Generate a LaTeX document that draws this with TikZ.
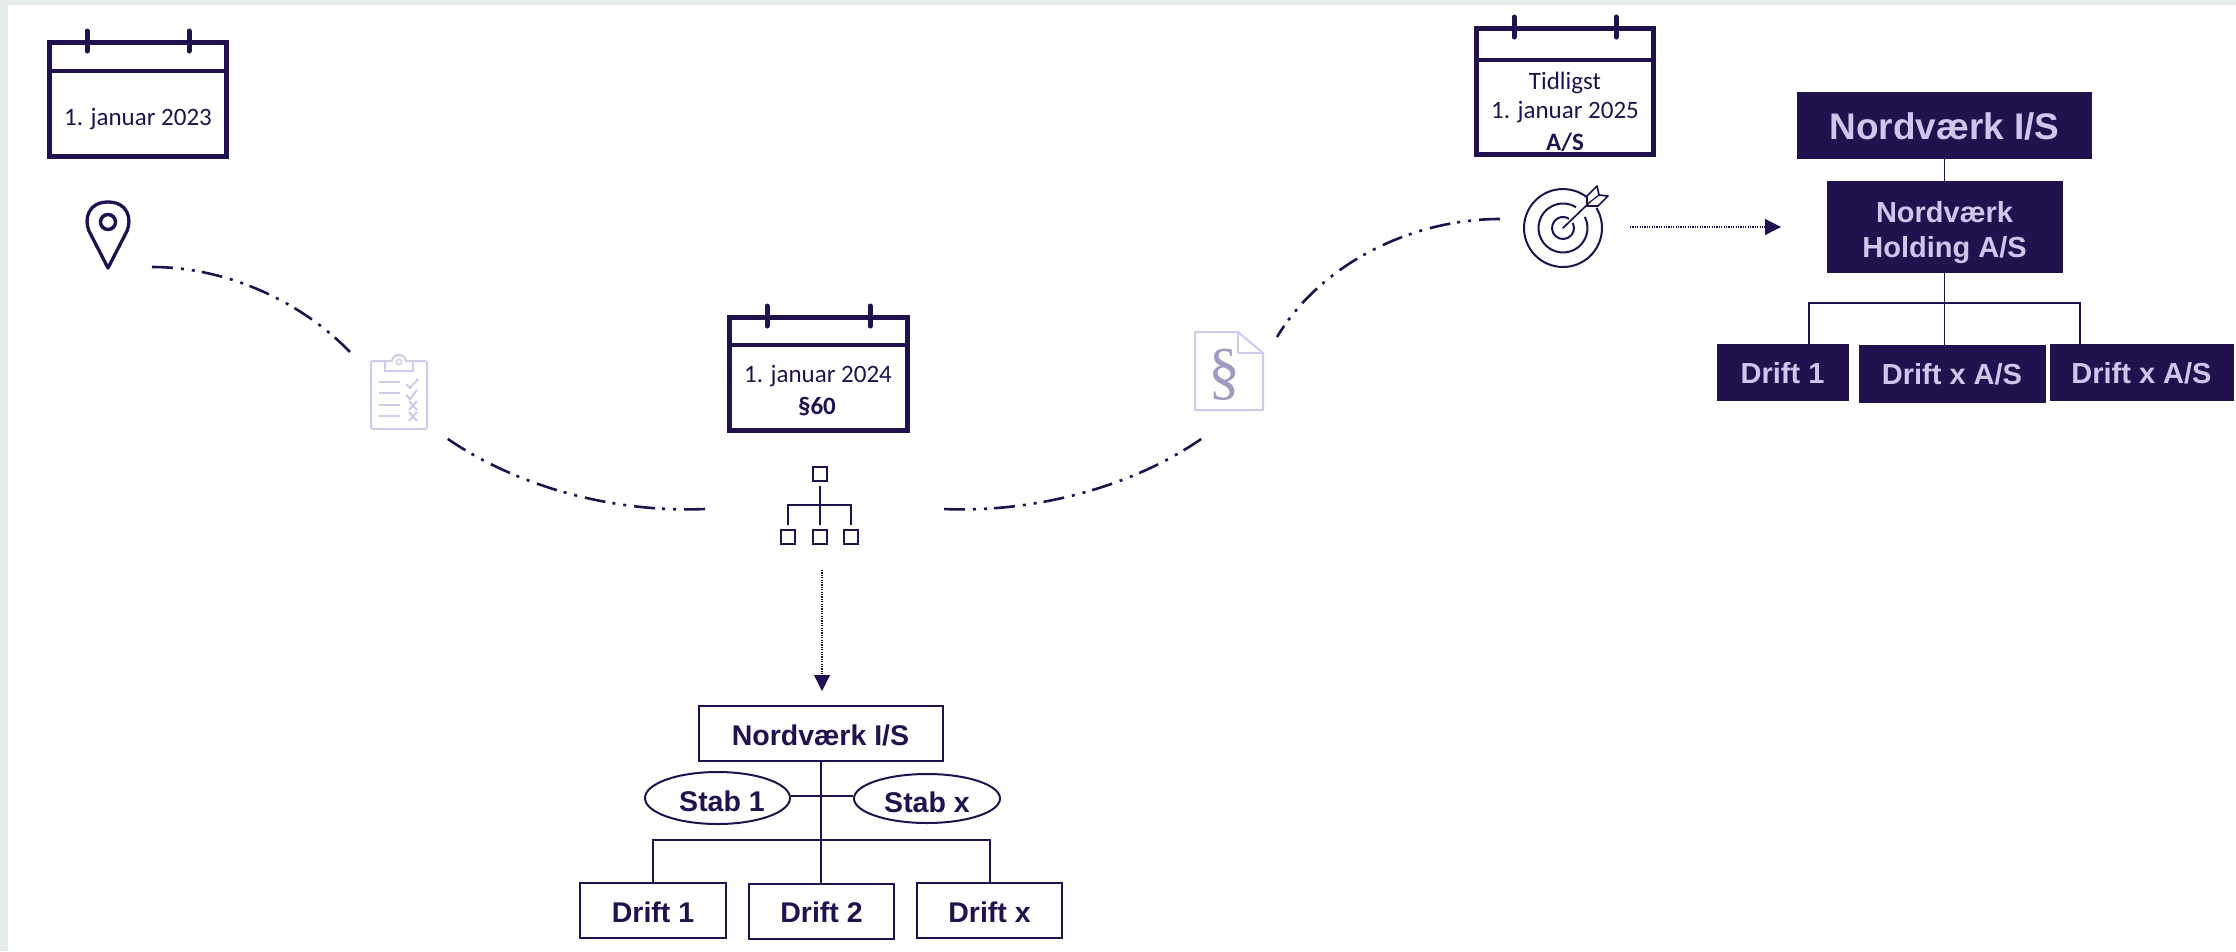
\documentclass[tikz,border=0pt]{standalone}
\usepackage{fontspec}
\setmainfont{Liberation Sans}
\newfontfamily\calfont{Carlito}
\newfontfamily\parfont{Liberation Serif}
\usetikzlibrary{arrows.meta,shapes.geometric}
\definecolor{navy}{HTML}{21124F}
\definecolor{lav}{HTML}{D2CAEB}
\definecolor{lavtext}{HTML}{CFC6EC}
\definecolor{parcol}{HTML}{A19BC1}
\definecolor{edge}{HTML}{E6ECE8}
\tikzset{
  x=1pt,y=-1pt,
  calline/.style={draw=navy,line width=4.8pt},
  calhead/.style={draw=navy,line width=3.8pt},
  caltab/.style={draw=navy,line width=5pt,line cap=round},
  caltext/.style={text=navy,inner sep=0pt,anchor=base,font=\calfont\fontsize{25}{30}\selectfont},
  calbold/.style={caltext,font=\calfont\bfseries\fontsize{25}{30}\selectfont},
  wbox/.style={draw=navy,line width=2pt,fill=white,text=navy,inner sep=0pt,outer sep=0pt,text depth=0pt,font=\bfseries\fontsize{28.5}{34}\selectfont},
  dbox/.style={draw=navy,fill=navy,line width=0.5pt,text=lavtext,inner sep=0pt,outer sep=0pt,text depth=0pt,font=\bfseries\fontsize{29}{35}\selectfont,align=center},
  wire/.style={draw=navy,line width=2pt},
  dwire/.style={draw=navy,line width=1.9pt},
  roadline/.style={draw=navy,line width=2.6pt,dash pattern=on 21pt off 8pt on 3pt off 8pt on 3pt off 7pt},
  dotline/.style={draw=navy,line width=1.1pt,dash pattern=on 1.2pt off 1.2pt,-{Triangle[length=16pt,width=16pt,fill=navy]}},
  icon/.style={draw=navy,line width=2pt},
  pale/.style={draw=lav,line width=2pt},
  orgsq/.style={draw=navy,line width=2.3pt,minimum size=14pt,inner sep=0pt,outer sep=0pt},
  stabtext/.style={text=navy,inner sep=0pt,anchor=base,font=\bfseries\fontsize{28.5}{34}\selectfont},
  staboval/.style={draw=navy,line width=2pt,fill=white,ellipse,inner sep=0pt},
}
\newcommand{\calshape}[7]{% left top right bottom header tabA tabB
  \draw[calline] (#1+2.3,#2+2.3) rectangle (#3-2.3,#4-2.3);
  \draw[calhead] (#1+2.3,#5) -- (#3-2.3,#5);
  \draw[caltab] (#6,#2-9) -- (#6,#2+11);
  \draw[caltab] (#7,#2-9) -- (#7,#2+11);
}
\begin{document}
\begin{tikzpicture}
\useasboundingbox (0,0) rectangle (2236,951);
\fill[edge] (0,0) rectangle (2236,5);
\fill[edge] (0,0) rectangle (8,951);

% calendars
\calshape{47}{40}{229}{159}{71}{87}{189}
\node[caltext] (t23) at (138,125) {1. januar 2023};
\calshape{727}{315}{910}{433}{345}{767}{870}
\node[caltext] (t24) at (818,382) {1. januar 2024};
\node[calbold] (s60) at (817,414) {§60};
\calshape{1474}{26}{1656}{157}{60}{1514}{1616}
\node[caltext] (tt) at (1565,89) {Tidligst};
\node[caltext] (t25) at (1565,118) {1. januar 2025};
\node[calbold] (as) at (1565,150) {A/S};

% pin
\draw[icon,line width=3.3pt,line join=round] (108,268) -- (89,231)
  .. controls (84,219) and (88,202) .. (108,202)
  .. controls (128,202) and (132,219) .. (127,231) -- cycle;
\draw[icon,line width=3.5pt] (108,222) circle (7.5);

% clipboard
\draw[pale,rounded corners=1.5pt] (385,361) -- (371,361) -- (371,429) -- (427,429) -- (427,361) -- (413,361);
\draw[pale,line join=round] (385,371) -- (413,371) -- (413,361) -- (406,361)
  .. controls (405,353) and (393,353) .. (392,361) -- (385,361) -- cycle;
\draw[pale,line width=1.5pt] (399,362) circle (2.6);
\foreach \yy in {382,393,405,416} \draw[pale] (379,\yy) -- (400,\yy);
\draw[pale] (406,384) -- (410,388) -- (418,379);
\draw[pale] (406,395) -- (410,399) -- (417,390);
\draw[pale] (409,401) -- (417,410) (417,401) -- (409,410);
\draw[pale] (409,412) -- (417,421) (417,412) -- (409,421);

% paragraph document
\draw[pale,line join=round] (1195,332) -- (1238,332) -- (1263,353) -- (1263,410) -- (1195,410) -- cycle;
\draw[pale,line join=round] (1238,332) -- (1238,353) -- (1263,353);
\node[text=parcol,inner sep=0pt,font=\parfont\fontsize{64}{64}\selectfont] (par) at (1224,375) {§};

% org icon
\node[orgsq] (ot) at (820,474) {};
\node[orgsq] (o1) at (788,537) {};
\node[orgsq] (o2) at (820,537) {};
\node[orgsq] (o3) at (851,537) {};
\coordinate (obusl) at (788,505);
\coordinate (obusr) at (851,505);
\draw[icon,line width=2.2pt] (ot.south) ++(0,5) -- (820,525);
\draw[icon,line width=2.2pt] (788,525) -- (obusl) -- (obusr) -- (851,525);

% target
\coordinate (tc) at (1563,228);
\draw[icon,line width=2pt] (tc) ++(-31:39) arc[start angle=-31,end angle=308,radius=39];
\draw[icon,line width=2pt] (tc) ++(-27:24.5) arc[start angle=-27,end angle=302,radius=24.5];
\draw[icon,line width=2pt] (tc) ++(-27:11) arc[start angle=-27,end angle=304,radius=11];
\draw[icon,line width=1.7pt,line cap=round] (tc) -- (1590,202);
\draw[icon,line width=1.7pt,line join=round] (1587,206) -- (1587,196) -- (1597,186) -- (1599,195) -- (1608,196) -- (1598,206) -- cycle;
\draw[icon,line width=1.2pt] (1590,202) -- (1599,195);

% road
\coordinate (c1a) at (152,267); \coordinate (c1b) at (351,353);
\coordinate (c2a) at (705,509); \coordinate (c2b) at (445,437);
\coordinate (c3a) at (944,509); \coordinate (c3b) at (1204,437);
\coordinate (c4a) at (1500,219); \coordinate (c4b) at (1277,337);
\draw[roadline] (c1a) .. controls (225,267) and (300,300) .. (c1b);
\draw[roadline] (c2a) .. controls (612,513) and (515,486) .. (c2b);
\draw[roadline] (c3a) .. controls (1036,513) and (1135,486) .. (c3b);
\draw[roadline] (c4a) .. controls (1410,219) and (1320,265) .. (c4b);

% lower chart
\node[wbox,minimum width=244pt,minimum height=55pt,text height=23pt] (top) at (820.5,733.5) {Nordværk I/S};
\node[wbox,minimum width=146pt,minimum height=55pt,text height=23pt] (d1) at (653,910.5) {Drift 1};
\node[wbox,minimum width=145pt,minimum height=55pt,text height=22pt] (d2) at (821.5,911) {Drift 2};
\node[wbox,minimum width=145pt,minimum height=55pt,text height=23pt] (d3) at (989.5,910.5) {Drift x};
\coordinate (bl) at (653,840); \coordinate (br) at (990,840);
\draw[wire] (top.south) -- (top.south |- d2.north);
\draw[wire] (d1.north -| bl) -- (bl) -- (br) -- (d3.north -| br);
\node[staboval,minimum width=145pt,minimum height=52pt] (s1) at (717.5,798) {};
\node[staboval,minimum width=146pt,minimum height=49pt] (sx) at (927,798.5) {};
\draw[wire] (s1.east |- 0,796) -- (sx.west |- 0,796);
\node[stabtext] (s1t) at (722,811) {Stab 1};
\node[stabtext] (sxt) at (927,812) {Stab x};

% dotted arrows
\coordinate (da) at (822,570); \coordinate (db) at (822,691);
\draw[dotline] (da) -- (db);
\coordinate (ea) at (1630,227);
\coordinate (eb) at (1781,227);
\draw[dotline] (ea) -- (eb);

% upper chart
\node[dbox,minimum width=294pt,minimum height=66pt,text height=28pt,font=\bfseries\fontsize{37}{44}\selectfont] (utop) at (1944.5,125) {Nordværk I/S};
\node[dbox,minimum width=235pt,minimum height=91pt] (uh) at (1944.5,226.5) {\rule{0pt}{26pt}Nordværk\\Holding A/S};
\node[dbox,minimum width=131pt,minimum height=56pt,text height=22pt] (u1) at (1782.5,372) {Drift 1};
\node[dbox,minimum width=186pt,minimum height=57pt,text height=21pt] (u2) at (1952,373.5) {Drift x A/S};
\node[dbox,minimum width=183pt,minimum height=56pt,text height=22pt] (u3) at (2141.5,372) {Drift x A/S};
\draw[dwire] (utop.south) -- (uh.north);
\draw[dwire] (uh.south) -- (uh.south |- u2.north);
\coordinate (ubl) at (1809,303); \coordinate (ubr) at (2080,303);
\draw[dwire] (u1.north -| ubl) -- (ubl) -- (ubr) -- (u3.north -| ubr);
\end{tikzpicture}
\end{document}
